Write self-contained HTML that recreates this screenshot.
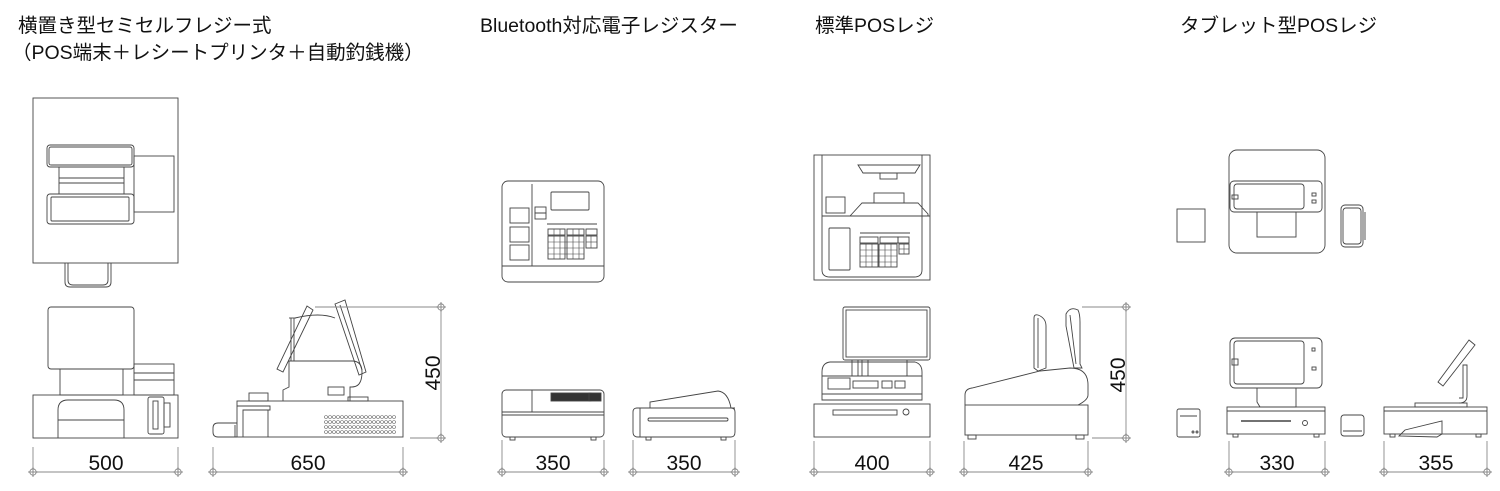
<!DOCTYPE html>
<html><head><meta charset="utf-8"><style>
html,body{margin:0;padding:0;background:#fff;width:1500px;height:491px;overflow:hidden}
svg{display:block}
.t{font-family:"Liberation Sans","Noto Sans CJK JP",sans-serif;font-size:19.5px;fill:#111}
.d{font-family:"Liberation Sans",sans-serif;font-size:21px;fill:#111}
</style></head><body>
<svg width="1500" height="491" viewBox="0 0 1500 491" xmlns="http://www.w3.org/2000/svg">
<defs>
<g id="dimc"><circle r="3.2" fill="#fff" stroke="#777" stroke-width="0.8"/><line x1="-5" y1="0" x2="5" y2="0" stroke="#777" stroke-width="0.8"/><line x1="0" y1="-5" x2="0" y2="5" stroke="#777" stroke-width="0.8"/></g>
</defs>
<text class="t" x="18" y="32">横置き型セミセルフレジー式</text>
<text class="t" x="12" y="59">（POS端末＋レシートプリンタ＋自動釣銭機）</text>
<text class="t" x="480" y="32">Bluetooth対応電子レジスター</text>
<text class="t" x="815" y="32">標準POSレジ</text>
<text class="t" x="1180" y="32">タブレット型POSレジ</text>

<g fill="none" stroke="#444" stroke-width="0.9">
<rect x="33" y="98" width="145" height="165"/>
<rect x="47" y="145" width="87" height="22" rx="3"/><rect x="49" y="147" width="83" height="18" rx="2"/>
<rect x="59" y="167" width="65" height="27"/><line x1="59" y1="178" x2="124" y2="178"/><line x1="59" y1="183" x2="124" y2="183"/>
<rect x="47" y="194" width="87" height="30" rx="3"/><rect x="51" y="197" width="78" height="24" rx="1"/>
<rect x="134" y="156" width="40" height="56"/>
<path d="M65 263 V282 Q65 287 70 287 H106 Q111 287 111 282 V263"/>
<path d="M68 263 V280 Q68 285 73 285 H103 Q108 285 108 280 V263"/>
<rect x="48" y="307" width="86" height="62" rx="3"/>
<rect x="60" y="369" width="63" height="26"/>
<rect x="134" y="364" width="40" height="31"/><line x1="134" y1="373" x2="174" y2="373"/><line x1="134" y1="380" x2="174" y2="380"/>
<rect x="33" y="395" width="145" height="43"/>
<path d="M58 438 V410 Q58 400 68 400 H114 Q124 400 124 410 V438"/><line x1="58" y1="420" x2="124" y2="420"/>
<rect x="148" y="397" width="16" height="37" rx="2"/><rect x="153" y="401" width="5" height="28"/><rect x="164" y="403" width="6" height="24"/>
<rect x="237" y="401" width="166" height="36"/>
<rect x="249" y="393" width="19" height="8"/>
<path d="M237 406 H270 V410 H243 V437"/><line x1="268" y1="410" x2="268" y2="437"/>
<path d="M237 423 H218 Q213 423 213 428 V432 Q213 437 218 437 H237"/><line x1="235" y1="425" x2="235" y2="437"/>
<path d="M283 401 V390 L289 387 V361 H352 Q362 361 362 372 Q362 387 352 387 H350 V401"/>
<rect x="328" y="387" width="16" height="8"/><rect x="348" y="397" width="20" height="4"/>
<line x1="291" y1="361" x2="291" y2="318"/><line x1="294" y1="361" x2="294" y2="318"/><line x1="289" y1="318" x2="296" y2="318"/>
<path d="M295 318 Q320 312 335 318"/>
<polygon points="307,306 313,310 283,372 277,369"/>
<polygon points="335,304 345,300 366,372 359,375"/><line x1="340" y1="305" x2="362" y2="370"/>
<line x1="315" y1="307" x2="445" y2="307" stroke="#888"/><line x1="410" y1="438" x2="445" y2="438" stroke="#888"/>
<line x1="441" y1="307" x2="441" y2="438" stroke="#888"/>
</g>
<g fill="none" stroke="#666" stroke-width="0.6">
<g id="vents">
<circle cx="326" cy="417" r="1.5"/><circle cx="326" cy="422" r="1.5"/><circle cx="326" cy="427" r="1.5"/><circle cx="326" cy="432" r="1.5"/>
<circle cx="330" cy="417" r="1.5"/><circle cx="330" cy="422" r="1.5"/><circle cx="330" cy="427" r="1.5"/><circle cx="330" cy="432" r="1.5"/>
</g>
<use href="#vents" x="8"/><use href="#vents" x="16"/><use href="#vents" x="24"/><use href="#vents" x="32"/><use href="#vents" x="40"/><use href="#vents" x="48"/><use href="#vents" x="56"/><use href="#vents" x="64"/>
</g>

<g fill="none" stroke="#444" stroke-width="0.9">
<rect x="502" y="181" width="102" height="101" rx="6"/>
<line x1="532" y1="184" x2="532" y2="266"/><line x1="502" y1="266" x2="604" y2="266"/>
<rect x="551" y="192" width="38" height="18" rx="1"/>
<rect x="510" y="208" width="19" height="15"/><rect x="510" y="227" width="19" height="15"/><rect x="510" y="245" width="19" height="15"/>
<rect x="535" y="207" width="11" height="6"/><rect x="535" y="213" width="11" height="6"/>
<line x1="547" y1="224" x2="597" y2="224"/>
<rect x="548" y="229" width="17" height="6"/><rect x="567" y="229" width="17" height="6"/><rect x="586" y="229" width="11" height="6"/>
<rect x="548" y="236" width="17" height="23"/><rect x="567" y="236" width="17" height="23"/><rect x="586" y="236" width="11" height="12"/>
</g>
<g stroke="#444" stroke-width="0.6">
<line x1="554" y1="236" x2="554" y2="259"/><line x1="560" y1="236" x2="560" y2="259"/><line x1="573" y1="236" x2="573" y2="259"/><line x1="579" y1="236" x2="579" y2="259"/>
<line x1="548" y1="242" x2="584" y2="242"/><line x1="548" y1="248" x2="584" y2="248"/><line x1="548" y1="254" x2="584" y2="254"/>
<line x1="591" y1="236" x2="591" y2="248"/><line x1="586" y1="242" x2="597" y2="242"/>
<line x1="554" y1="229" x2="554" y2="235"/><line x1="560" y1="229" x2="560" y2="235"/><line x1="573" y1="229" x2="573" y2="235"/><line x1="579" y1="229" x2="579" y2="235"/>
</g>
<g fill="none" stroke="#444" stroke-width="0.9">
<rect x="502" y="390" width="102" height="47" rx="4"/>
<line x1="502" y1="412" x2="604" y2="412"/><line x1="502" y1="415" x2="604" y2="415"/><line x1="532" y1="390" x2="532" y2="412"/>
<rect x="551" y="393" width="40" height="8" fill="#333"/><rect x="589" y="393" width="12" height="8" fill="#333"/>
<rect x="510" y="437" width="5" height="3"/><rect x="591" y="437" width="5" height="3"/>
<path d="M633 412 V432 Q633 437 638 437 H731 Q735 437 735 432 V412 Q735 408 731 408 H731 Q728 392 718 391 L650 402 V408 H637 Q633 408 633 412"/>
<line x1="640" y1="408" x2="640" y2="437"/><line x1="640" y1="408" x2="735" y2="408"/>
<rect x="648" y="418" width="80" height="3" rx="1.5"/>
<rect x="646" y="437" width="5" height="3"/><rect x="721" y="437" width="5" height="3"/>

<rect x="814" y="155" width="116" height="125"/>
<path d="M822 155 V270 Q822 277 830 277 H914 Q922 277 922 270 V155"/>
<path d="M858 165 H920 L915 173 H863 Z"/><rect x="880" y="173" width="17" height="6"/>
<rect x="874" y="193" width="30" height="10"/>
<path d="M850 216 L862 203 H918 L928 214 V216 Z"/><line x1="822" y1="216" x2="930" y2="216"/>
<rect x="826" y="197" width="19" height="16"/>
<rect x="829" y="228" width="21" height="42" rx="1"/>
<line x1="860" y1="233" x2="910" y2="233"/>
<rect x="860" y="237" width="18" height="6"/><rect x="880" y="237" width="18" height="6"/><rect x="898" y="237" width="11" height="6"/>
<rect x="860" y="244" width="18" height="23"/><rect x="879" y="244" width="18" height="23"/><rect x="899" y="244" width="10" height="10"/>
</g>
<g stroke="#444" stroke-width="0.6">
<line x1="866" y1="244" x2="866" y2="267"/><line x1="872" y1="244" x2="872" y2="267"/><line x1="885" y1="244" x2="885" y2="267"/><line x1="891" y1="244" x2="891" y2="267"/>
<line x1="860" y1="250" x2="897" y2="250"/><line x1="860" y1="256" x2="897" y2="256"/><line x1="860" y1="262" x2="897" y2="262"/>
<line x1="904" y1="244" x2="904" y2="254"/><line x1="899" y1="249" x2="909" y2="249"/>
</g>
<g fill="none" stroke="#444" stroke-width="0.9">
<rect x="843" y="307" width="87" height="53" rx="2"/><rect x="846" y="310" width="81" height="47"/>
<path d="M822 400 V372 Q822 363 830 362 H915 Q922 364 922 372 V400 Z"/>
<line x1="852" y1="360" x2="852" y2="376"/><line x1="858" y1="360" x2="858" y2="376"/><line x1="862" y1="360" x2="862" y2="376"/><line x1="868" y1="360" x2="868" y2="376"/><line x1="907" y1="360" x2="907" y2="376"/>
<line x1="822" y1="376" x2="922" y2="376"/>
<rect x="828" y="378" width="22" height="11"/>
<rect x="853" y="381" width="25" height="7"/><rect x="882" y="381" width="10" height="7"/><rect x="895" y="381" width="10" height="7"/>
<line x1="822" y1="394" x2="922" y2="394"/>
<rect x="814" y="404" width="116" height="33"/>
<rect x="833" y="410" width="64" height="5"/><circle cx="906" cy="412" r="3"/>
<rect x="965" y="405" width="123" height="30"/>
<rect x="968" y="435" width="8" height="4"/><rect x="1076" y="435" width="8" height="4"/>
<path d="M965 405 V395 Q965 389 972 388 L1040 371 L1070 368 Q1088 368 1088 385 V395 Q1088 400 1078 405"/>
<path d="M1034 318 Q1034 314 1038 315 Q1046 318 1046 326 V368 L1038 371 L1034 368 Z"/><line x1="1038" y1="318" x2="1038" y2="368"/>
<path d="M1066 314 Q1070 306 1078 310 Q1080 314 1080 322 V364 L1082 368 H1074 L1066 326 Z"/><line x1="1070" y1="315" x2="1076" y2="364"/>
<line x1="1082" y1="307" x2="1130" y2="307" stroke="#888"/><line x1="1092" y1="438" x2="1130" y2="438" stroke="#888"/>
<line x1="1126" y1="307" x2="1126" y2="438" stroke="#888"/>

<rect x="1229" y="150" width="96" height="103" rx="8"/>
<rect x="1230" y="181" width="92" height="31" rx="4"/><rect x="1234" y="184" width="70" height="25" rx="3"/>
<rect x="1232" y="195" width="6" height="4"/><rect x="1312" y="193" width="4" height="3"/><rect x="1312" y="200" width="4" height="3"/>
<rect x="1257" y="212" width="39" height="25"/>
<rect x="1177" y="209" width="28" height="33"/>
<rect x="1341" y="205" width="22" height="42" rx="4"/><rect x="1343" y="208" width="18" height="36" rx="3"/><line x1="1365" y1="212" x2="1365" y2="240"/>
<rect x="1230" y="338" width="92" height="50" rx="5"/><rect x="1234" y="341" width="70" height="43" rx="3"/>
<rect x="1232" y="359" width="6" height="6"/><rect x="1312" y="348" width="3" height="3"/><rect x="1312" y="367" width="4" height="3"/>
<path d="M1257 388 V402 L1260 407 H1296 V388"/>
<rect x="1227" y="407" width="98" height="27"/><line x1="1227" y1="411" x2="1325" y2="411"/>
<line x1="1241" y1="421" x2="1291" y2="421" stroke-width="1.5"/><circle cx="1305" cy="423" r="2.5"/>
<rect x="1233" y="434" width="5" height="3"/><rect x="1314" y="434" width="5" height="3"/>
<rect x="1177" y="409" width="23" height="28" rx="2"/><line x1="1180" y1="416" x2="1197" y2="416"/><circle cx="1193" cy="432" r="1"/><circle cx="1197" cy="432" r="1"/>
<rect x="1341" y="415" width="23" height="21" rx="3"/><line x1="1343" y1="431" x2="1362" y2="431"/>
<rect x="1384" y="407" width="103" height="27"/><line x1="1384" y1="411" x2="1487" y2="411"/>
<rect x="1390" y="434" width="5" height="3"/><rect x="1476" y="434" width="5" height="3"/>
<path d="M1399 436 L1405 430 L1442 421 V434 L1437 437 Z"/>
<rect x="1415" y="403" width="52" height="4"/>
<path d="M1459 403 Q1467 403 1467 396 V365 H1463 V398 H1459"/>
<polygon points="1469,340 1475,345 1443,386 1438,382"/>

<g stroke="#888">
<line x1="33" y1="447" x2="33" y2="474"/><line x1="178" y1="447" x2="178" y2="474"/><line x1="33" y1="472" x2="178" y2="472"/>
<line x1="213" y1="447" x2="213" y2="474"/><line x1="403" y1="447" x2="403" y2="474"/><line x1="213" y1="472" x2="403" y2="472"/>
<line x1="502" y1="440" x2="502" y2="474"/><line x1="604" y1="440" x2="604" y2="474"/><line x1="502" y1="472" x2="604" y2="472"/>
<line x1="633" y1="440" x2="633" y2="474"/><line x1="735" y1="440" x2="735" y2="474"/><line x1="633" y1="472" x2="735" y2="472"/>
<line x1="814" y1="441" x2="814" y2="474"/><line x1="930" y1="441" x2="930" y2="474"/><line x1="814" y1="472" x2="930" y2="472"/>
<line x1="964" y1="441" x2="964" y2="474"/><line x1="1088" y1="441" x2="1088" y2="474"/><line x1="964" y1="472" x2="1088" y2="472"/>
<line x1="1229" y1="441" x2="1229" y2="474"/><line x1="1325" y1="441" x2="1325" y2="474"/><line x1="1229" y1="472" x2="1325" y2="472"/>
<line x1="1384" y1="441" x2="1384" y2="474"/><line x1="1487" y1="441" x2="1487" y2="474"/><line x1="1384" y1="472" x2="1487" y2="472"/>
</g>
</g>
<use href="#dimc" x="33" y="472"/><use href="#dimc" x="178" y="472"/>
<use href="#dimc" x="213" y="472"/><use href="#dimc" x="403" y="472"/>
<use href="#dimc" x="502" y="472"/><use href="#dimc" x="604" y="472"/>
<use href="#dimc" x="633" y="472"/><use href="#dimc" x="735" y="472"/>
<use href="#dimc" x="814" y="472"/><use href="#dimc" x="930" y="472"/>
<use href="#dimc" x="964" y="472"/><use href="#dimc" x="1088" y="472"/>
<use href="#dimc" x="1229" y="472"/><use href="#dimc" x="1325" y="472"/>
<use href="#dimc" x="1384" y="472"/><use href="#dimc" x="1487" y="472"/>
<use href="#dimc" x="441" y="307"/><use href="#dimc" x="441" y="438"/>
<use href="#dimc" x="1126" y="307"/><use href="#dimc" x="1126" y="438"/>

<g class="d" text-anchor="middle">
<text x="106" y="470">500</text>
<text x="308" y="470">650</text>
<text x="553" y="470">350</text>
<text x="684" y="470">350</text>
<text x="872" y="470">400</text>
<text x="1026" y="470">425</text>
<text x="1277" y="470">330</text>
<text x="1436" y="470">355</text>
<text transform="translate(440,373) rotate(-90)">450</text>
<text transform="translate(1125,375) rotate(-90)">450</text>
</g>
</svg>
</body></html>
